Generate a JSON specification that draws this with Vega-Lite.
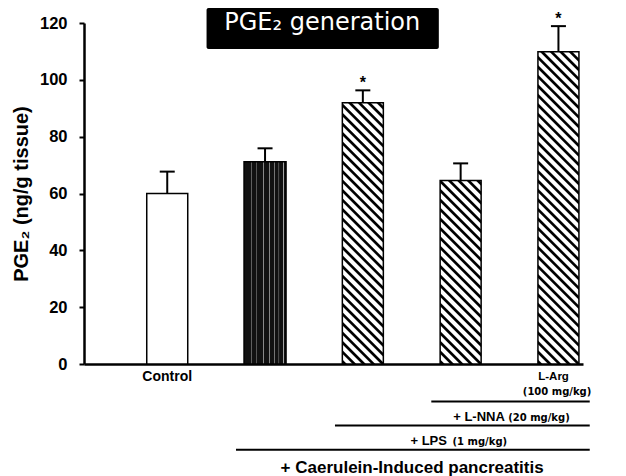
{
  "$schema": "https://vega.github.io/schema/vega-lite/v6.json",
  "autosize": "none",
  "width": 499,
  "height": 341,
  "padding": {"left": 84, "top": 23, "right": 43, "bottom": 112},
  "background": "white",
  "config": {"view": {"stroke": null},
    "axisY": {"grid": false,
        "titleFont": "Liberation Sans", "titleFontSize": 20, "titleFontWeight": "bold", "titleColor": "#000", "titlePadding": 8,
        "labelFont": "Liberation Sans", "labelFontSize": 16.5, "labelFontWeight": "bold", "labelColor": "#000", "labelPadding": 12,
        "tickColor": "#000", "tickSize": 5, "tickWidth": 2, "domainColor": "#000", "domainWidth": 2.5}},
  "data": {"values": [
    {"x": 1, "group": "Control", "y": 60.0, "hi": 67.7, "sig": ""},
    {"x": 2, "group": "Caerulein", "y": 71.2, "hi": 75.9, "sig": ""},
    {"x": 3, "group": "Caerulein + LPS", "y": 91.9, "hi": 96.3, "sig": "*"},
    {"x": 4, "group": "Caerulein + LPS + L-NNA", "y": 64.6, "hi": 70.6, "sig": ""},
    {"x": 5, "group": "Caerulein + LPS + L-NNA + L-Arg", "y": 109.9, "hi": 118.9, "sig": "*"}
  ]},
  "encoding": {
    "x": {"field": "x", "type": "quantitative",
      "scale": {"domain": [0.2, 5.2], "nice": false, "zero": false},
      "axis": {"labels": false, "ticks": false, "grid": false, "title": null, "domainColor": "#000", "domainWidth": 2.5}},
    "y": {"field": "y", "type": "quantitative",
      "scale": {"domain": [0, 120], "nice": false},
      "axis": {"title": "PGE₂ (ng/g tissue)", "values": [0, 20, 40, 60, 80, 100, 120]}}
  },
  "layer": [
    {"transform": [{"filter": "datum.x == 1"}],
     "mark": {"type": "bar", "width": 41, "fill": "#fff", "stroke": "#000", "strokeWidth": 1.5}},
    {"transform": [{"filter": "datum.x == 2"}],
     "mark": {"type": "bar", "width": 42, "stroke": "#000", "strokeWidth": 1.5,
       "fill": {"gradient": "linear", "x1": 0, "y1": 0, "x2": 1, "y2": 0, "stops": [
         {"offset": 0, "color": "#111"}, {"offset": 0.17, "color": "#111"}, {"offset": 0.185, "color": "#aaa"}, {"offset": 0.2, "color": "#111"},
         {"offset": 0.29, "color": "#111"}, {"offset": 0.305, "color": "#aaa"}, {"offset": 0.32, "color": "#111"},
         {"offset": 0.445, "color": "#111"}, {"offset": 0.46, "color": "#aaa"}, {"offset": 0.475, "color": "#111"},
         {"offset": 0.595, "color": "#111"}, {"offset": 0.61, "color": "#aaa"}, {"offset": 0.625, "color": "#111"},
         {"offset": 0.705, "color": "#111"}, {"offset": 0.72, "color": "#aaa"}, {"offset": 0.735, "color": "#111"},
         {"offset": 0.815, "color": "#111"}, {"offset": 0.83, "color": "#aaa"}, {"offset": 0.845, "color": "#111"},
         {"offset": 0.925, "color": "#111"}, {"offset": 0.94, "color": "#aaa"}, {"offset": 0.955, "color": "#111"},
         {"offset": 1, "color": "#111"}]}}},
    {"transform": [{"filter": "datum.x == 3"}],
     "mark": {"type": "bar", "width": 41, "stroke": "#000", "strokeWidth": 1.5,
       "fill": {"gradient": "linear", "x1": 0, "y1": 1, "x2": 0.2786, "y2": -0.7748, "stops": [
{"offset":0,"color":"#fff"},{"offset":0.003,"color":"#000"},{"offset":0.008,"color":"#000"},{"offset":0.011,"color":"#fff"},
{"offset":0.02,"color":"#fff"},{"offset":0.023,"color":"#000"},{"offset":0.028,"color":"#000"},{"offset":0.031,"color":"#fff"},
{"offset":0.04,"color":"#fff"},{"offset":0.043,"color":"#000"},{"offset":0.048,"color":"#000"},{"offset":0.051,"color":"#fff"},
{"offset":0.06,"color":"#fff"},{"offset":0.063,"color":"#000"},{"offset":0.068,"color":"#000"},{"offset":0.071,"color":"#fff"},
{"offset":0.08,"color":"#fff"},{"offset":0.083,"color":"#000"},{"offset":0.088,"color":"#000"},{"offset":0.091,"color":"#fff"},
{"offset":0.1,"color":"#fff"},{"offset":0.103,"color":"#000"},{"offset":0.108,"color":"#000"},{"offset":0.111,"color":"#fff"},
{"offset":0.12,"color":"#fff"},{"offset":0.123,"color":"#000"},{"offset":0.128,"color":"#000"},{"offset":0.131,"color":"#fff"},
{"offset":0.14,"color":"#fff"},{"offset":0.143,"color":"#000"},{"offset":0.148,"color":"#000"},{"offset":0.151,"color":"#fff"},
{"offset":0.16,"color":"#fff"},{"offset":0.163,"color":"#000"},{"offset":0.168,"color":"#000"},{"offset":0.171,"color":"#fff"},
{"offset":0.18,"color":"#fff"},{"offset":0.183,"color":"#000"},{"offset":0.188,"color":"#000"},{"offset":0.191,"color":"#fff"},
{"offset":0.2,"color":"#fff"},{"offset":0.203,"color":"#000"},{"offset":0.208,"color":"#000"},{"offset":0.211,"color":"#fff"},
{"offset":0.22,"color":"#fff"},{"offset":0.223,"color":"#000"},{"offset":0.228,"color":"#000"},{"offset":0.231,"color":"#fff"},
{"offset":0.24,"color":"#fff"},{"offset":0.243,"color":"#000"},{"offset":0.248,"color":"#000"},{"offset":0.251,"color":"#fff"},
{"offset":0.26,"color":"#fff"},{"offset":0.263,"color":"#000"},{"offset":0.268,"color":"#000"},{"offset":0.271,"color":"#fff"},
{"offset":0.28,"color":"#fff"},{"offset":0.283,"color":"#000"},{"offset":0.288,"color":"#000"},{"offset":0.291,"color":"#fff"},
{"offset":0.3,"color":"#fff"},{"offset":0.303,"color":"#000"},{"offset":0.308,"color":"#000"},{"offset":0.311,"color":"#fff"},
{"offset":0.32,"color":"#fff"},{"offset":0.323,"color":"#000"},{"offset":0.328,"color":"#000"},{"offset":0.331,"color":"#fff"},
{"offset":0.34,"color":"#fff"},{"offset":0.343,"color":"#000"},{"offset":0.348,"color":"#000"},{"offset":0.351,"color":"#fff"},
{"offset":0.36,"color":"#fff"},{"offset":0.363,"color":"#000"},{"offset":0.368,"color":"#000"},{"offset":0.371,"color":"#fff"},
{"offset":0.38,"color":"#fff"},{"offset":0.383,"color":"#000"},{"offset":0.388,"color":"#000"},{"offset":0.391,"color":"#fff"},
{"offset":0.4,"color":"#fff"},{"offset":0.403,"color":"#000"},{"offset":0.408,"color":"#000"},{"offset":0.411,"color":"#fff"},
{"offset":0.42,"color":"#fff"},{"offset":0.423,"color":"#000"},{"offset":0.428,"color":"#000"},{"offset":0.431,"color":"#fff"},
{"offset":0.44,"color":"#fff"},{"offset":0.443,"color":"#000"},{"offset":0.448,"color":"#000"},{"offset":0.451,"color":"#fff"},
{"offset":0.46,"color":"#fff"},{"offset":0.463,"color":"#000"},{"offset":0.468,"color":"#000"},{"offset":0.471,"color":"#fff"},
{"offset":0.48,"color":"#fff"},{"offset":0.483,"color":"#000"},{"offset":0.488,"color":"#000"},{"offset":0.491,"color":"#fff"},
{"offset":0.5,"color":"#fff"},{"offset":0.503,"color":"#000"},{"offset":0.508,"color":"#000"},{"offset":0.511,"color":"#fff"},
{"offset":0.52,"color":"#fff"},{"offset":0.523,"color":"#000"},{"offset":0.528,"color":"#000"},{"offset":0.531,"color":"#fff"},
{"offset":0.54,"color":"#fff"},{"offset":0.543,"color":"#000"},{"offset":0.548,"color":"#000"},{"offset":0.551,"color":"#fff"},
{"offset":0.56,"color":"#fff"},{"offset":0.563,"color":"#000"},{"offset":0.568,"color":"#000"},{"offset":0.571,"color":"#fff"},
{"offset":0.58,"color":"#fff"},{"offset":0.583,"color":"#000"},{"offset":0.588,"color":"#000"},{"offset":0.591,"color":"#fff"},
{"offset":0.6,"color":"#fff"},{"offset":0.603,"color":"#000"},{"offset":0.608,"color":"#000"},{"offset":0.611,"color":"#fff"},
{"offset":0.62,"color":"#fff"},{"offset":0.623,"color":"#000"},{"offset":0.628,"color":"#000"},{"offset":0.631,"color":"#fff"},
{"offset":0.64,"color":"#fff"},{"offset":0.643,"color":"#000"},{"offset":0.648,"color":"#000"},{"offset":0.651,"color":"#fff"}
       ]}}},
    {"transform": [{"filter": "datum.x == 4"}],
     "mark": {"type": "bar", "width": 41, "stroke": "#000", "strokeWidth": 1.5,
       "fill": {"gradient": "linear", "x1": 0, "y1": 1, "x2": 0.5503, "y2": -1.4643, "stops": [
{"offset":0,"color":"#fff"},{"offset":0.003,"color":"#000"},{"offset":0.008,"color":"#000"},{"offset":0.011,"color":"#fff"},
{"offset":0.02,"color":"#fff"},{"offset":0.023,"color":"#000"},{"offset":0.028,"color":"#000"},{"offset":0.031,"color":"#fff"},
{"offset":0.04,"color":"#fff"},{"offset":0.043,"color":"#000"},{"offset":0.048,"color":"#000"},{"offset":0.051,"color":"#fff"},
{"offset":0.06,"color":"#fff"},{"offset":0.063,"color":"#000"},{"offset":0.068,"color":"#000"},{"offset":0.071,"color":"#fff"},
{"offset":0.08,"color":"#fff"},{"offset":0.083,"color":"#000"},{"offset":0.088,"color":"#000"},{"offset":0.091,"color":"#fff"},
{"offset":0.1,"color":"#fff"},{"offset":0.103,"color":"#000"},{"offset":0.108,"color":"#000"},{"offset":0.111,"color":"#fff"},
{"offset":0.12,"color":"#fff"},{"offset":0.123,"color":"#000"},{"offset":0.128,"color":"#000"},{"offset":0.131,"color":"#fff"},
{"offset":0.14,"color":"#fff"},{"offset":0.143,"color":"#000"},{"offset":0.148,"color":"#000"},{"offset":0.151,"color":"#fff"},
{"offset":0.16,"color":"#fff"},{"offset":0.163,"color":"#000"},{"offset":0.168,"color":"#000"},{"offset":0.171,"color":"#fff"},
{"offset":0.18,"color":"#fff"},{"offset":0.183,"color":"#000"},{"offset":0.188,"color":"#000"},{"offset":0.191,"color":"#fff"},
{"offset":0.2,"color":"#fff"},{"offset":0.203,"color":"#000"},{"offset":0.208,"color":"#000"},{"offset":0.211,"color":"#fff"},
{"offset":0.22,"color":"#fff"},{"offset":0.223,"color":"#000"},{"offset":0.228,"color":"#000"},{"offset":0.231,"color":"#fff"},
{"offset":0.24,"color":"#fff"},{"offset":0.243,"color":"#000"},{"offset":0.248,"color":"#000"},{"offset":0.251,"color":"#fff"},
{"offset":0.26,"color":"#fff"},{"offset":0.263,"color":"#000"},{"offset":0.268,"color":"#000"},{"offset":0.271,"color":"#fff"},
{"offset":0.28,"color":"#fff"},{"offset":0.283,"color":"#000"},{"offset":0.288,"color":"#000"},{"offset":0.291,"color":"#fff"},
{"offset":0.3,"color":"#fff"},{"offset":0.303,"color":"#000"},{"offset":0.308,"color":"#000"},{"offset":0.311,"color":"#fff"},
{"offset":0.32,"color":"#fff"},{"offset":0.323,"color":"#000"},{"offset":0.328,"color":"#000"},{"offset":0.331,"color":"#fff"},
{"offset":0.34,"color":"#fff"},{"offset":0.343,"color":"#000"},{"offset":0.348,"color":"#000"},{"offset":0.351,"color":"#fff"},
{"offset":0.36,"color":"#fff"},{"offset":0.363,"color":"#000"},{"offset":0.368,"color":"#000"},{"offset":0.371,"color":"#fff"},
{"offset":0.38,"color":"#fff"},{"offset":0.383,"color":"#000"},{"offset":0.388,"color":"#000"},{"offset":0.391,"color":"#fff"},
{"offset":0.4,"color":"#fff"},{"offset":0.403,"color":"#000"},{"offset":0.408,"color":"#000"},{"offset":0.411,"color":"#fff"},
{"offset":0.42,"color":"#fff"},{"offset":0.423,"color":"#000"},{"offset":0.428,"color":"#000"},{"offset":0.431,"color":"#fff"},
{"offset":0.44,"color":"#fff"},{"offset":0.443,"color":"#000"},{"offset":0.448,"color":"#000"},{"offset":0.451,"color":"#fff"},
{"offset":0.46,"color":"#fff"},{"offset":0.463,"color":"#000"},{"offset":0.468,"color":"#000"},{"offset":0.471,"color":"#fff"},
{"offset":0.48,"color":"#fff"},{"offset":0.483,"color":"#000"},{"offset":0.488,"color":"#000"},{"offset":0.491,"color":"#fff"}
       ]}}},
    {"transform": [{"filter": "datum.x == 5"}],
     "mark": {"type": "bar", "width": 41, "stroke": "#000", "strokeWidth": 1.5,
       "fill": {"gradient": "linear", "x1": 0, "y1": 1, "x2": 0.1963, "y2": -0.4952, "stops": [
{"offset":0,"color":"#fff"},{"offset":0.003,"color":"#000"},{"offset":0.008,"color":"#000"},{"offset":0.011,"color":"#fff"},
{"offset":0.02,"color":"#fff"},{"offset":0.023,"color":"#000"},{"offset":0.028,"color":"#000"},{"offset":0.031,"color":"#fff"},
{"offset":0.04,"color":"#fff"},{"offset":0.043,"color":"#000"},{"offset":0.048,"color":"#000"},{"offset":0.051,"color":"#fff"},
{"offset":0.06,"color":"#fff"},{"offset":0.063,"color":"#000"},{"offset":0.068,"color":"#000"},{"offset":0.071,"color":"#fff"},
{"offset":0.08,"color":"#fff"},{"offset":0.083,"color":"#000"},{"offset":0.088,"color":"#000"},{"offset":0.091,"color":"#fff"},
{"offset":0.1,"color":"#fff"},{"offset":0.103,"color":"#000"},{"offset":0.108,"color":"#000"},{"offset":0.111,"color":"#fff"},
{"offset":0.12,"color":"#fff"},{"offset":0.123,"color":"#000"},{"offset":0.128,"color":"#000"},{"offset":0.131,"color":"#fff"},
{"offset":0.14,"color":"#fff"},{"offset":0.143,"color":"#000"},{"offset":0.148,"color":"#000"},{"offset":0.151,"color":"#fff"},
{"offset":0.16,"color":"#fff"},{"offset":0.163,"color":"#000"},{"offset":0.168,"color":"#000"},{"offset":0.171,"color":"#fff"},
{"offset":0.18,"color":"#fff"},{"offset":0.183,"color":"#000"},{"offset":0.188,"color":"#000"},{"offset":0.191,"color":"#fff"},
{"offset":0.2,"color":"#fff"},{"offset":0.203,"color":"#000"},{"offset":0.208,"color":"#000"},{"offset":0.211,"color":"#fff"},
{"offset":0.22,"color":"#fff"},{"offset":0.223,"color":"#000"},{"offset":0.228,"color":"#000"},{"offset":0.231,"color":"#fff"},
{"offset":0.24,"color":"#fff"},{"offset":0.243,"color":"#000"},{"offset":0.248,"color":"#000"},{"offset":0.251,"color":"#fff"},
{"offset":0.26,"color":"#fff"},{"offset":0.263,"color":"#000"},{"offset":0.268,"color":"#000"},{"offset":0.271,"color":"#fff"},
{"offset":0.28,"color":"#fff"},{"offset":0.283,"color":"#000"},{"offset":0.288,"color":"#000"},{"offset":0.291,"color":"#fff"},
{"offset":0.3,"color":"#fff"},{"offset":0.303,"color":"#000"},{"offset":0.308,"color":"#000"},{"offset":0.311,"color":"#fff"},
{"offset":0.32,"color":"#fff"},{"offset":0.323,"color":"#000"},{"offset":0.328,"color":"#000"},{"offset":0.331,"color":"#fff"},
{"offset":0.34,"color":"#fff"},{"offset":0.343,"color":"#000"},{"offset":0.348,"color":"#000"},{"offset":0.351,"color":"#fff"},
{"offset":0.36,"color":"#fff"},{"offset":0.363,"color":"#000"},{"offset":0.368,"color":"#000"},{"offset":0.371,"color":"#fff"},
{"offset":0.38,"color":"#fff"},{"offset":0.383,"color":"#000"},{"offset":0.388,"color":"#000"},{"offset":0.391,"color":"#fff"},
{"offset":0.4,"color":"#fff"},{"offset":0.403,"color":"#000"},{"offset":0.408,"color":"#000"},{"offset":0.411,"color":"#fff"},
{"offset":0.42,"color":"#fff"},{"offset":0.423,"color":"#000"},{"offset":0.428,"color":"#000"},{"offset":0.431,"color":"#fff"},
{"offset":0.44,"color":"#fff"},{"offset":0.443,"color":"#000"},{"offset":0.448,"color":"#000"},{"offset":0.451,"color":"#fff"},
{"offset":0.46,"color":"#fff"},{"offset":0.463,"color":"#000"},{"offset":0.468,"color":"#000"},{"offset":0.471,"color":"#fff"},
{"offset":0.48,"color":"#fff"},{"offset":0.483,"color":"#000"},{"offset":0.488,"color":"#000"},{"offset":0.491,"color":"#fff"},
{"offset":0.5,"color":"#fff"},{"offset":0.503,"color":"#000"},{"offset":0.508,"color":"#000"},{"offset":0.511,"color":"#fff"},
{"offset":0.52,"color":"#fff"},{"offset":0.523,"color":"#000"},{"offset":0.528,"color":"#000"},{"offset":0.531,"color":"#fff"},
{"offset":0.54,"color":"#fff"},{"offset":0.543,"color":"#000"},{"offset":0.548,"color":"#000"},{"offset":0.551,"color":"#fff"},
{"offset":0.56,"color":"#fff"},{"offset":0.563,"color":"#000"},{"offset":0.568,"color":"#000"},{"offset":0.571,"color":"#fff"},
{"offset":0.58,"color":"#fff"},{"offset":0.583,"color":"#000"},{"offset":0.588,"color":"#000"},{"offset":0.591,"color":"#fff"},
{"offset":0.6,"color":"#fff"},{"offset":0.603,"color":"#000"},{"offset":0.608,"color":"#000"},{"offset":0.611,"color":"#fff"},
{"offset":0.62,"color":"#fff"},{"offset":0.623,"color":"#000"},{"offset":0.628,"color":"#000"},{"offset":0.631,"color":"#fff"},
{"offset":0.64,"color":"#fff"},{"offset":0.643,"color":"#000"},{"offset":0.648,"color":"#000"},{"offset":0.651,"color":"#fff"},
{"offset":0.66,"color":"#fff"},{"offset":0.663,"color":"#000"},{"offset":0.668,"color":"#000"},{"offset":0.671,"color":"#fff"},
{"offset":0.68,"color":"#fff"},{"offset":0.683,"color":"#000"},{"offset":0.688,"color":"#000"},{"offset":0.691,"color":"#fff"},
{"offset":0.7,"color":"#fff"},{"offset":0.703,"color":"#000"},{"offset":0.708,"color":"#000"},{"offset":0.711,"color":"#fff"},
{"offset":0.72,"color":"#fff"},{"offset":0.723,"color":"#000"},{"offset":0.728,"color":"#000"},{"offset":0.731,"color":"#fff"},
{"offset":0.74,"color":"#fff"},{"offset":0.743,"color":"#000"},{"offset":0.748,"color":"#000"},{"offset":0.751,"color":"#fff"},
{"offset":0.76,"color":"#fff"},{"offset":0.763,"color":"#000"},{"offset":0.768,"color":"#000"},{"offset":0.771,"color":"#fff"}
       ]}}},
    {"mark": {"type": "rule", "color": "#000", "strokeWidth": 2},
     "encoding": {"y2": {"field": "hi"}}},
    {"mark": {"type": "tick", "orient": "horizontal", "size": 15, "thickness": 2, "color": "#000", "opacity": 1},
     "encoding": {"y": {"field": "hi", "type": "quantitative", "axis": {"title": "PGE₂ (ng/g tissue)", "values": [0, 20, 40, 60, 80, 100, 120]}}}},
    {"mark": {"type": "text", "font": "Liberation Sans", "fontWeight": "bold", "fontSize": 16, "color": "#000", "align": "center", "baseline": "alphabetic", "dy": -2},
     "encoding": {"y": {"field": "hi", "type": "quantitative", "axis": {"title": "PGE₂ (ng/g tissue)", "values": [0, 20, 40, 60, 80, 100, 120]}}, "text": {"field": "sig"}}},
    {"data": {"values": [
       {"x": 3.700, "x2": 5.320, "y": -13.2},
       {"x": 2.715, "x2": 5.320, "y": -21.64},
       {"x": 1.703, "x2": 5.320, "y": -30.19}
     ]},
     "mark": {"type": "rule", "color": "#000", "strokeWidth": 2},
     "encoding": {"x2": {"field": "x2"}}},
    {"data": {"values": [{"x": 1.0, "y": -5.9, "label": "Control"}]},
     "mark": {"type": "text", "font": "Liberation Sans", "fontWeight": "bold", "fontSize": 14, "color": "#000", "align": "center", "baseline": "alphabetic"},
     "encoding": {"text": {"field": "label"}}},
    {"data": {"values": [{"x": 4.95, "y": -5.8, "label": "L-Arg"}]},
     "mark": {"type": "text", "font": "Liberation Sans", "fontWeight": "bold", "fontSize": 11.5, "color": "#000", "align": "center", "baseline": "alphabetic"},
     "encoding": {"text": {"field": "label"}}},
    {"data": {"values": [{"x": 4.986, "y": -11.0, "label": "(100 mg/kg)"}]},
     "mark": {"type": "text", "font": "DejaVu Sans", "fontWeight": "bold", "fontSize": 10, "color": "#000", "align": "center", "baseline": "alphabetic"},
     "encoding": {"text": {"field": "label"}}},
    {"data": {"values": [
       {"x": 4.452, "y": -19.95, "label": "+ L-NNA"},
       {"x": 3.860, "y": -28.5, "label": "+ LPS"}
     ]},
     "mark": {"type": "text", "font": "Liberation Sans", "fontWeight": "bold", "fontSize": 13, "color": "#000", "align": "right", "baseline": "alphabetic"},
     "encoding": {"text": {"field": "label"}}},
    {"data": {"values": [
       {"x": 4.486, "y": -19.95, "label": "(20 mg/kg)"},
       {"x": 3.917, "y": -28.5, "label": "(1 mg/kg)"}
     ]},
     "mark": {"type": "text", "font": "DejaVu Sans", "fontWeight": "bold", "fontSize": 10, "color": "#000", "align": "left", "baseline": "alphabetic"},
     "encoding": {"text": {"field": "label"}}},
    {"data": {"values": [{"x": 3.504, "y": -38.46, "label": "+ Caerulein-Induced pancreatitis"}]},
     "mark": {"type": "text", "font": "Liberation Sans", "fontWeight": "bold", "fontSize": 17, "color": "#000", "align": "center", "baseline": "alphabetic"},
     "encoding": {"text": {"field": "label"}}},
    {"data": {"values": [{"x": 1.402, "x2": 3.777, "y": 110.85, "y2": 125.3}]},
     "mark": {"type": "rect", "color": "#000", "cornerRadius": 2},
     "encoding": {"x2": {"field": "x2"}, "y2": {"field": "y2"}}},
    {"data": {"values": [{"x": 2.585, "y": 117.7, "label": "PGE₂ generation"}]},
     "mark": {"type": "text", "font": "DejaVu Sans", "fontSize": 24, "color": "#fff", "align": "center", "baseline": "alphabetic"},
     "encoding": {"text": {"field": "label"}}}
  ]
}
